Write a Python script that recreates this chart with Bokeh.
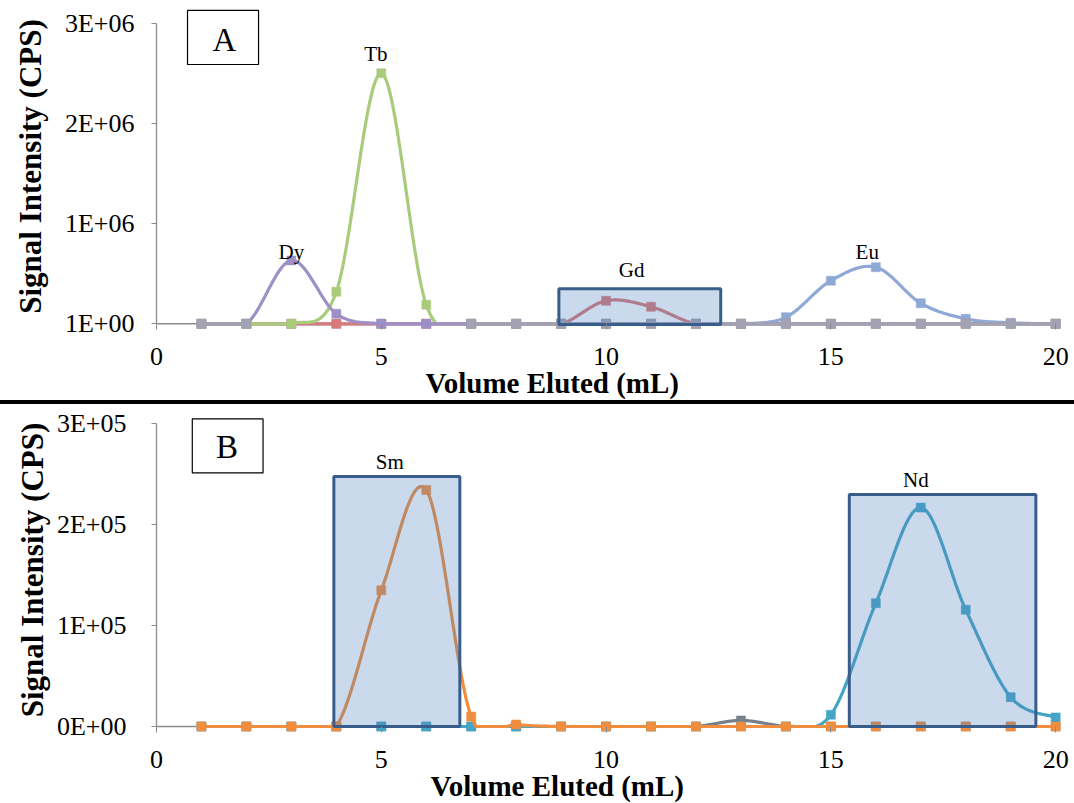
import numpy as np
from bokeh.plotting import figure
from bokeh.models import Range1d, FixedTicker, Title, Div
from bokeh.layouts import column
from bokeh.embed import file_html
from bokeh.resources import INLINE
from bokeh.core.properties import value

# ---------------- data ----------------
volume = list(range(1, 21))

# Panel A (CPS)
dy = [0, 0, 632000, 100000, 0, 0, 0, 0, 0, 0, 0, 0, 0, 0, 0, 0, 0, 0, 0, 0]
tb = [0, 0, 0, 320000, 2500000, 190000, 0, 0, 0, 0, 0, 0, 0, 0, 0, 0, 0, 0, 0, 0]
gd = [0, 0, 0, 0, 0, 0, 0, 0, 0, 230000, 170000, 0, 0, 0, 0, 0, 0, 0, 0, 0]
eu = [0, 0, 0, 0, 0, 0, 0, 0, 0, 0, 0, 0, 0, 66000, 430000, 565000, 205000, 50000, 10000, 0]
other_a_x = [1, 2, 7, 8, 9, 10, 11, 12, 13, 14, 15, 16, 17, 18, 19, 20]
other_a = [0] * 16

# Panel B (CPS)
sm = [0, 0, 0, 0, 134700, 234000, 9900, 2000, 0, 0, 0, 0, 0, 0, 0, 0, 0, 0, 0, 0]
nd = [0, 0, 0, 0, 0, 0, 0, 0, 0, 0, 0, 0, 0, 0, 11600, 122000, 216500, 115500, 29000, 9000]
other_b = [0, 0, 0, 0, 0, 0, 0, 0, 0, 0, 0, 0, 6000, 0, 0, 0, 0, 0, 0, 0]

x_ticks = [0, 5, 10, 15, 20]
ya_ticks = [0, 1000000, 2000000, 3000000]
ya_labels = ["1E+00", "1E+06", "2E+06", "3E+06"]
yb_ticks = [0, 100000, 200000, 300000]
yb_labels = ["0E+00", "1E+05", "2E+05", "3E+05"]

FONT = "Liberation Serif"
AXIS_GRAY = "#8c8c8c"


def smooth(xs, ys, n=30):
    """Excel-style smoothed line (Bezier, control points at 1/6 of neighbour difference)."""
    xs = np.asarray(xs, float)
    ys = np.asarray(ys, float)
    m = len(xs)
    if m < 2:
        return xs, ys
    X, Y = [], []
    t = np.linspace(0, 1, n)
    for i in range(m - 1):
        a = max(i - 1, 0)
        d = min(i + 2, m - 1)
        p0 = np.array([xs[i], ys[i]])
        p3 = np.array([xs[i + 1], ys[i + 1]])
        c1 = p0 + (p3 - np.array([xs[a], ys[a]])) / 6.0
        c2 = p3 - (np.array([xs[d], ys[d]]) - p0) / 6.0
        bx = (1 - t) ** 3 * p0[0] + 3 * (1 - t) ** 2 * t * c1[0] + 3 * (1 - t) * t ** 2 * c2[0] + t ** 3 * p3[0]
        by = (1 - t) ** 3 * p0[1] + 3 * (1 - t) ** 2 * t * c1[1] + 3 * (1 - t) * t ** 2 * c2[1] + t ** 3 * p3[1]
        X.extend(bx if i == 0 else bx[1:])
        Y.extend(by if i == 0 else by[1:])
    return np.array(X), np.maximum(np.array(Y), 0.0)


def runs(xs, ys):
    out, cx, cy = [], [xs[0]], [ys[0]]
    for a, b in zip(xs[1:], ys[1:]):
        if a - cx[-1] == 1:
            cx.append(a); cy.append(b)
        else:
            out.append((cx, cy)); cx, cy = [a], [b]
    out.append((cx, cy))
    return out


def series(p, xs, ys, color, lw=3.2, msize=9):
    for rx, ry in runs(xs, ys):
        sx, sy = smooth(rx, ry)
        p.line(sx, sy, line_color=color, line_width=lw, line_join="round", line_cap="round")
    p.scatter(xs, ys, marker="square", size=msize, fill_color=color, line_color=color, line_width=0.5)


def make_fig(height, left, right, top, bottom, xr, yr, yt, yl, ybounds, ylabel_standoff, ytick_standoff, title_offset):
    p = figure(width=1074, height=height, output_backend="svg", toolbar_location=None,
               x_range=Range1d(*xr), y_range=Range1d(*yr),
               min_border_left=left, min_border_right=right, min_border_top=top, min_border_bottom=bottom)
    p.outline_line_color = None
    p.xgrid.visible = False
    p.ygrid.visible = False
    p.background_fill_color = "white"
    p.border_fill_color = "white"
    # baseline (horizontal axis line at zero)
    p.segment(x0=[x_ticks[0]], x1=[x_ticks[-1]], y0=[0], y1=[0], line_color=AXIS_GRAY, line_width=1.5)
    xa = p.xaxis[0]
    xa.ticker = FixedTicker(ticks=x_ticks, minor_ticks=[])
    xa.bounds = (0, 20)
    xa.axis_line_color = None
    xa.major_tick_line_color = AXIS_GRAY
    xa.major_tick_out = 0
    xa.major_tick_in = 6
    xa.major_label_standoff = 18
    xa.major_label_text_font = FONT
    xa.major_label_text_font_size = "26px"
    xa.major_label_text_color = "black"
    ya = p.yaxis[0]
    ya.ticker = FixedTicker(ticks=yt, minor_ticks=[])
    ya.major_label_overrides = {t: l for t, l in zip(yt, yl)}
    ya.bounds = ybounds
    ya.axis_line_color = AXIS_GRAY
    ya.axis_line_width = 1.3
    ya.major_tick_line_color = AXIS_GRAY
    ya.major_tick_out = 5
    ya.major_tick_in = 0
    ya.major_label_standoff = ytick_standoff
    ya.major_label_text_font = FONT
    ya.major_label_text_font_size = "26px"
    ya.major_label_text_color = "black"
    ya.axis_label = "Signal Intensity (CPS)"
    ya.axis_label_text_font = FONT
    ya.axis_label_text_font_style = "bold"
    ya.axis_label_text_font_size = "31px"
    ya.axis_label_text_color = "black"
    ya.axis_label_standoff = ylabel_standoff
    p.add_layout(Title(text="Volume Eluted (mL)", align="left", offset=title_offset, standoff=-5,
                       text_font=FONT, text_font_size="29px", text_font_style="bold",
                       text_color="black"), "below")
    return p


def highlight(p, l, r, b, t):
    p.quad(left=[l], right=[r], bottom=[b], top=[t], fill_color="#4F81BD", fill_alpha=0.3,
           line_color="#385D8A", line_width=3)


def panel_tag(p, l, r, b, t, cx, cy, txt):
    p.quad(left=[l], right=[r], bottom=[b], top=[t], fill_color="white", line_color="black", line_width=1.2)
    p.text(x=[cx], y=[cy], text=[txt], text_font=value(FONT), text_font_size="33px",
           text_align="center", text_baseline="middle", text_color="black")


def tag(p, x, y, txt):
    p.text(x=[x], y=[y], text=[txt], text_font=value(FONT), text_font_size="21px",
           text_align="center", text_baseline="middle", text_color="black")


# ---------------- panel A ----------------
pa = make_fig(400, 156, 13, 3, 71, (0, 20.13), (-56900, 3196600), ya_ticks, ya_labels, (0, 3000000), 14, 17, 269)
series(pa, volume, eu, "#8FA9D6")
series(pa, volume, gd, "#D97A7A")
series(pa, volume, tb, "#A8CC7C")
series(pa, volume, dy, "#9F8FC7")
series(pa, other_a_x, other_a, "#A2A2B2")
highlight(pa, 8.95, 12.55, -7000, 349000)
tag(pa, 3.0, 714000, "Dy")
tag(pa, 4.88, 2695000, "Tb")
tag(pa, 10.57, 539000, "Gd")
tag(pa, 15.81, 715000, "Eu")
panel_tag(pa, 0.69, 2.27, 2588000, 3127000, 1.51, 2837000, "A")

# ---------------- panel B ----------------
pb = make_fig(399, 151, 12, 3, 71, (0, 20.13), (-5935, 315530), yb_ticks, yb_labels, (0, 300000), 4, 25, 274)
series(pb, volume, other_b, "#75808C")
series(pb, volume, nd, "#45A5C6")
series(pb, volume, sm, "#F08D3E")
highlight(pb, 3.945, 6.747, 0, 247300)
highlight(pb, 15.41, 19.56, 0, 229500)
tag(pb, 5.19, 261400, "Sm")
tag(pb, 16.89, 244000, "Nd")
panel_tag(pb, 0.796, 2.37, 250900, 304300, 1.57, 276300, "B")

sep = Div(width=1074, height=4, margin=0, styles={"background-color": "black"})

layout = column(pa, sep, pb, spacing=0)
open("out.html", "w").write(file_html(layout, INLINE))
